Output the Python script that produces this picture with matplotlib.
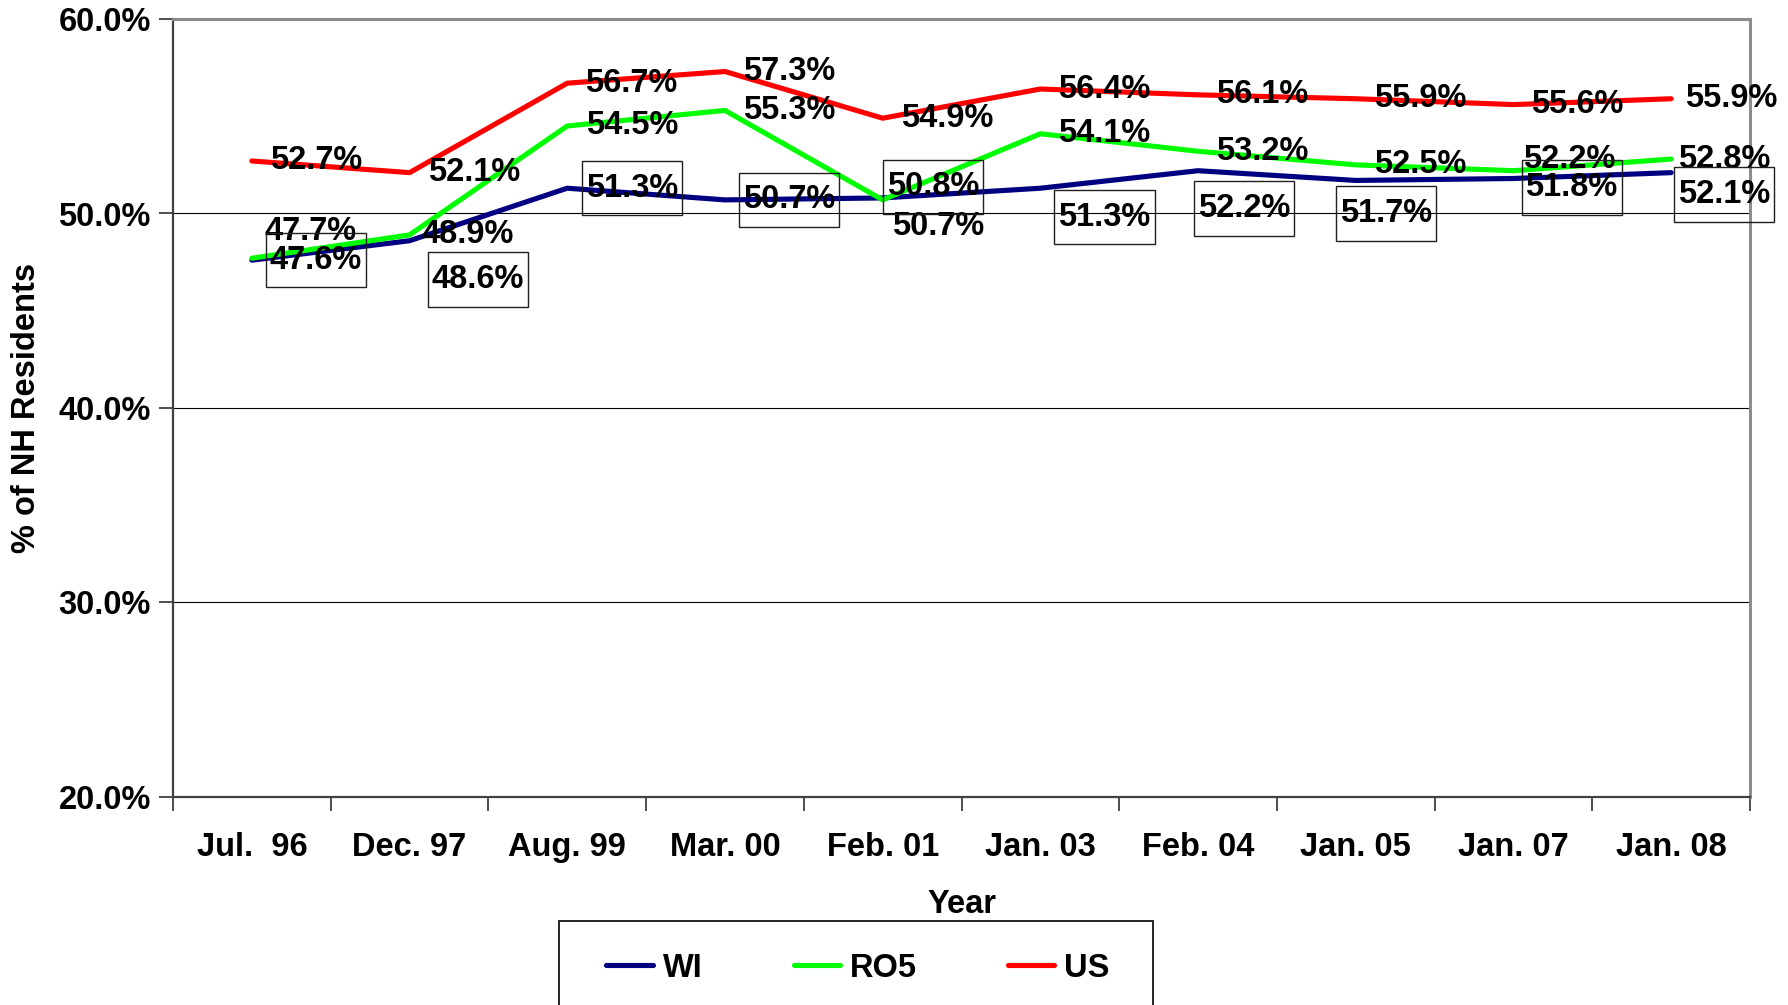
# NH residents share chart, WI vs RO5 vs US

import numpy as np
import matplotlib.pyplot as plt
from matplotlib.ticker import FixedLocator, FuncFormatter
from matplotlib.patches import Rectangle
from matplotlib.path import Path

plt.rcParams['font.family'] = ['Liberation Sans', 'DejaVu Sans']
plt.rcParams['font.weight'] = 'bold'
FS = 23.5

dates = ["Jul.  96", "Dec. 97", "Aug. 99", "Mar. 00", "Feb. 01",
         "Jan. 03", "Feb. 04", "Jan. 05", "Jan. 07", "Jan. 08"]

wi  = [47.6, 48.6, 51.3, 50.7, 50.8, 51.3, 52.2, 51.7, 51.8, 52.1]
ro5 = [47.7, 48.9, 54.5, 55.3, 50.7, 54.1, 53.2, 52.5, 52.2, 52.8]
us  = [52.7, 52.1, 56.7, 57.3, 54.9, 56.4, 56.1, 55.9, 55.6, 55.9]

# label nudges in pixels (dx, dy) -- labels were dragged around in the original
wi_off  = [(18, 0), (22, -39), (19, 0), (18, 0), (4, 11),
           (18, -29), (0, -38), (-16, -33), (12, -9), (7, -22)]
ro5_off = [(13, 27), (12, 0), (19, 0), (18, 0), (9, -27),
           (18, 0), (18, 0), (18, 0), (10, 11), (7, 0)]
us_off  = [(18, 0)] * 9 + [(14, 0)]


def tall_box(x0, y0, width, height, mutation_size):
    # excel style label box: little side padding, more on top/bottom
    px = 0.12 * mutation_size
    py = 0.36 * mutation_size
    return Path([(x0 - px, y0 - py), (x0 + width + px, y0 - py),
                 (x0 + width + px, y0 + height + py), (x0 - px, y0 + height + py),
                 (x0 - px, y0 - py)], closed=True)


W, H = 1788, 1005
fig = plt.figure(figsize=(W / 100, H / 100), dpi=100)
ax = fig.add_axes([173 / W, 1 - 797 / H, (1750 - 173) / W, (797 - 19) / H])

x = np.arange(len(dates))

l_wi, = ax.plot(x, wi, color='#000080', lw=3.7, label='WI', zorder=3, solid_capstyle='round')
l_ro5, = ax.plot(x, ro5, color='#00ff00', lw=3.7, label='RO5', zorder=3, solid_capstyle='round')
l_us, = ax.plot(x, us, color='#ff0000', lw=3.7, label='US', zorder=3, solid_capstyle='round')

# data labels
for vals, offs, boxed in [(us, us_off, False), (ro5, ro5_off, False), (wi, wi_off, True)]:
    for i, v in enumerate(vals):
        kw = {}
        if boxed:
            kw['bbox'] = dict(boxstyle=tall_box, fc='none', ec='#202020', lw=1.0)
        ax.annotate(f"{v:.1f}%", (x[i], v), xytext=offs[i], textcoords='offset pixels',
                    ha='left', va='center', fontsize=FS, fontweight='bold',
                    color='black', zorder=5, annotation_clip=False, **kw)

ax.set_xlim(-0.5, len(dates) - 0.5)
ax.set_ylim(20, 60)

ax.set_yticks([20, 30, 40, 50, 60])
ax.yaxis.set_major_formatter(FuncFormatter(lambda v, p: f"{v:.1f}%"))
ax.tick_params(axis='y', direction='out', length=10, width=1.3, color='#404040',
               pad=6, labelsize=FS)

ax.set_xticks(x)
ax.set_xticklabels(dates)
ax.xaxis.set_minor_locator(FixedLocator(np.arange(-0.5, len(dates), 1.0)))
ax.tick_params(axis='x', which='major', length=0, pad=25, labelsize=FS)
ax.tick_params(axis='x', which='minor', direction='out', length=10, width=1.3, color='#404040')

ax.grid(axis='y', color='black', lw=0.8)
ax.set_axisbelow(True)

for s in ['left', 'bottom']:
    ax.spines[s].set_color('#404040')
    ax.spines[s].set_linewidth(1.6)
for s in ['top', 'right']:
    ax.spines[s].set_color('#8c8c8c')
    ax.spines[s].set_linewidth(2.2)

ax.set_xlabel("Year", fontsize=FS, fontweight='bold', labelpad=19)
ax.set_ylabel("% of NH Residents", fontsize=FS, fontweight='bold')
ax.yaxis.label.set_va('center')
ax.yaxis.set_label_coords((27 - 173) / (1750 - 173), 0.5)

# legend, frame drawn separately (runs off the bottom of the image)
leg = ax.legend(handles=[l_wi, l_ro5, l_us], loc='center', ncol=3,
                bbox_to_anchor=(858 / W, 1 - 968 / H), bbox_transform=fig.transFigure,
                borderaxespad=0, borderpad=0, frameon=False,
                prop={'weight': 'bold', 'size': FS},
                handlelength=1.42, handletextpad=0.3, columnspacing=2.8)
fig.add_artist(Rectangle((559 / W, -0.02), (1153 - 559) / W, 1 - 921 / H + 0.02,
                         transform=fig.transFigure, fill=False, ec='black', lw=1.2))

fig.savefig("out.png", dpi=100)
